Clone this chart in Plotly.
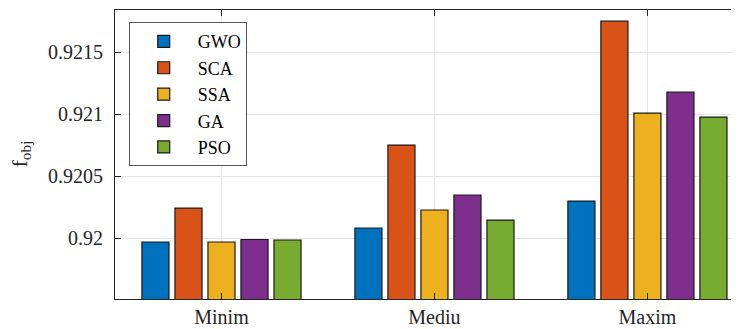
import plotly.graph_objects as go

categories = ["Minim", "Mediu", "Maxim"]
algorithms = ["GWO", "SCA", "SSA", "GA", "PSO"]
colors = ["#0072BD", "#D95319", "#EDB120", "#7E2F8E", "#77AC30"]
GWO = [0.919968, 0.920081, 0.920298]
SCA = [0.920242, 0.920750, 0.921750]
SSA = [0.919968, 0.920226, 0.921008]
GA = [0.919988, 0.920347, 0.921177]
PSO = [0.919984, 0.920145, 0.920976]
series = [GWO, SCA, SSA, GA, PSO]
yticks = [0.92, 0.9205, 0.921, 0.9215]
yticklabels = ["0.92", "0.9205", "0.921", "0.9215"]

FAM = "'Liberation Serif', 'Times New Roman', Times, serif"
font = dict(family=FAM, size=20, color="#262626")

fig = go.Figure()
for name, vals, c in zip(algorithms, series, colors):
    fig.add_trace(go.Bar(
        x=categories, y=vals, name=name,
        marker=dict(color=c, line=dict(color="#1a1a1a", width=1.2)),
    ))

# page body has an 8px default margin; compensate
fig.update_layout(
    width=731, height=321,
    margin=dict(l=107, r=0, t=2, b=30, autoexpand=False),
    paper_bgcolor="white", plot_bgcolor="white",
    barmode="group", bargap=0.225, bargroupgap=0.18,
    font=font,
    showlegend=True,
    legend=dict(x=0.022, y=0.958, xanchor="left", yanchor="top",
                bordercolor="#555555", borderwidth=1, bgcolor="white",
                font=dict(family=FAM, size=18, color="#000000"),
                itemwidth=58, tracegroupgap=0),
    annotations=[dict(
        text="f<sub>obj</sub>", xref="paper", yref="paper", x=0, y=0.5,
        xanchor="center", yanchor="middle", xshift=-95, textangle=-90,
        showarrow=False, font=dict(family=FAM, size=22, color="#262626"),
    )],
)
fig.update_xaxes(
    type="category", range=[-0.5, 2.43], automargin=False,
    showline=True, linecolor="#262626", linewidth=1, mirror="ticks",
    ticks="inside", ticklen=6, tickcolor="#262626",
    showgrid=True, gridcolor="#e5e5e5", gridwidth=1,
    tickfont=font, ticklabelstandoff=0,
)
fig.update_yaxes(
    range=[0.919508, 0.92184], automargin=False,
    tickvals=yticks, ticktext=yticklabels,
    showline=True, linecolor="#262626", linewidth=1, mirror=False,
    ticks="inside", ticklen=6, tickcolor="#262626",
    showgrid=True, gridcolor="#e5e5e5", gridwidth=1,
    tickfont=font, ticklabelstandoff=7,
    zeroline=False,
)
fig.write_html("out.html")
